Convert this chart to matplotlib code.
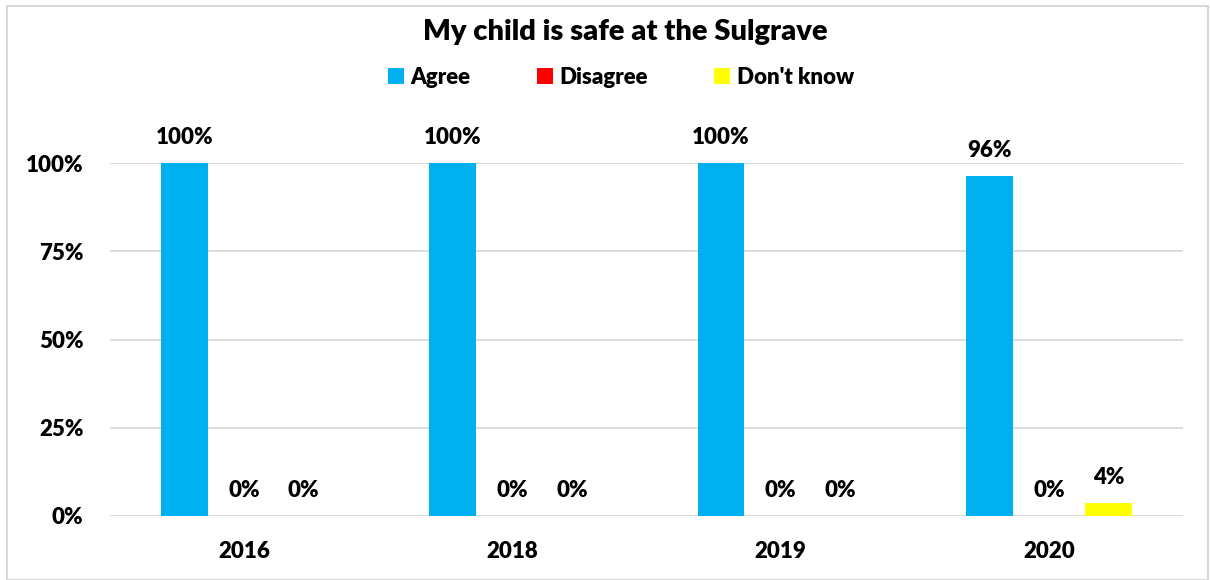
import matplotlib
matplotlib.use("Agg")
import matplotlib.pyplot as plt
from matplotlib.patches import Rectangle
import numpy as np

plt.rcParams['font.family'] = ['Lato', 'DejaVu Sans']
plt.rcParams['font.weight'] = 'heavy'

title = "My child is safe at the Sulgrave"
years = ["2016", "2018", "2019", "2020"]
series_names = ["Agree", "Disagree", "Don't know"]
agree = [1.00, 1.00, 1.00, 0.963]
disagree = [0.0, 0.0, 0.0, 0.0]
dont_know = [0.0, 0.0, 0.0, 0.037]
labels_agree = ["100%", "100%", "100%", "96%"]
labels_disagree = ["0%", "0%", "0%", "0%"]
labels_dont = ["0%", "0%", "0%", "4%"]
colors = ["#00B0F0", "#FF0000", "#FFFF00"]
yticks = [0, 0.25, 0.5, 0.75, 1.0]
ytick_labels = ["0%", "25%", "50%", "75%", "100%"]

W = "heavy"
fig = plt.figure(figsize=(12.1, 5.8), dpi=100)
ax = fig.add_axes([110/1210, 64/580, (1183-110)/1210, (516-163)/580])

x = np.arange(len(years))
offset = 0.222
width = 0.174
all_vals = [agree, disagree, dont_know]
all_labels = [labels_agree, labels_disagree, labels_dont]
handles = []
for i, (vals, labs, col, name) in enumerate(zip(all_vals, all_labels, colors, series_names)):
    pos = x + (i - 1) * offset
    b = ax.bar(pos, vals, width=width, color=col, label=name, zorder=3)
    handles.append(b)
    for p, v, l in zip(pos, vals, labs):
        ax.annotate(l, (p, v), xytext=(0, 11), textcoords="offset points",
                    ha="center", va="bottom", fontsize=16, fontweight=W,
                    annotation_clip=False)

ax.set_xlim(-0.5, len(years) - 0.5)
ax.set_ylim(0, 1.0)
ax.set_yticks(yticks)
ax.set_yticklabels(ytick_labels, fontsize=16, fontweight=W)
ax.set_xticks(x)
ax.set_xticklabels(years, fontsize=16, fontweight=W)
ax.tick_params(axis="both", length=0)
ax.tick_params(axis="y", pad=19)
ax.tick_params(axis="x", pad=18)
ax.yaxis.grid(True, color="#D9D9D9", linewidth=1.3, zorder=0)
ax.set_axisbelow(True)
for s in ["top", "right", "left", "bottom"]:
    ax.spines[s].set_visible(False)

fig.text(625/1210, 1 - 32/580, title, ha="center", va="center",
         fontsize=21, fontweight=W)
leg = fig.legend(handles=handles, labels=series_names, loc="center",
                 bbox_to_anchor=(621/1210, 1 - 77/580), ncol=3, frameon=False,
                 prop={"size": 16, "weight": W}, handlelength=0.7, handleheight=0.7,
                 handletextpad=0.3, columnspacing=3.0)

fig.patches.append(Rectangle((7/1210, 0), 1201/1210, 1 - 6/580,
                             transform=fig.transFigure, fill=False,
                             edgecolor="#D9D9D9", linewidth=1.5))

fig.savefig("out.png", dpi=100)
